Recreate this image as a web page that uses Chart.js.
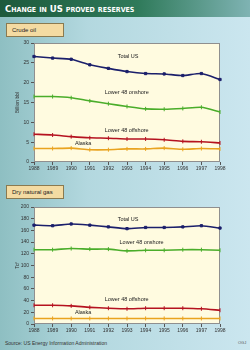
<!DOCTYPE html>
<html lang="en">
<head>
<meta charset="UTF-8">
<title>Change in US proved reserves</title>
<script src="https://cdn.jsdelivr.net/npm/chart.js"></script>
<style>
  body { margin: 0; }
  .page {
    position: relative; width: 250px; height: 350px; overflow: hidden;
    background: linear-gradient(90deg, #8ebfc2 0%, #b3d8df 35%, #cbe6ef 100%);
    font-family: "Liberation Sans", Arial, sans-serif;
  }
  .titlebar {
    position: absolute; left: 0; top: 0; width: 250px; height: 17px;
    background: linear-gradient(90deg, #1d5a3c 0%, #2f7a5a 55%, #7fb3b3 100%);
    color: white; font-weight: bold; font-size: 9.5px; line-height: 17px;
    padding-left: 5px; box-sizing: border-box; font-variant: small-caps;
    font-family: "Liberation Sans Narrow", "DejaVu Sans Condensed", Arial, sans-serif;
  }
  .tag {
    position: absolute; left: 6px; width: 58px; height: 14px;
    background: #f4dba2; border: 1px solid #8a7a50; box-sizing: border-box;
    font-size: 6px; line-height: 12px; padding-left: 5px; color: #222;
  }
  .box { position: absolute; }
  .source { position: absolute; left: 5px; top: 340px; font-size: 5px; color: #333; }
  .ogj { position: absolute; left: 238px; top: 340px; font-size: 4px; color: #555; }
</style>
</head>
<body>
<div class="page">
  <div class="titlebar">Change in US proved reserves</div>
  <div class="tag" style="top:23px">Crude oil</div>
  <div class="box" style="left:0;top:38px;width:230px;height:135px"><canvas id="oilChart"></canvas></div>
  <div class="tag" style="top:185px">Dry natural gas</div>
  <div class="box" style="left:0;top:202px;width:230px;height:133px"><canvas id="gasChart"></canvas></div>
  <div class="source">Source: US Energy Information Administration</div>
  <div class="ogj">OGJ</div>
</div>

<script>
const years = ['1988', '1989', '1990', '1991', '1992', '1993', '1994', '1995', '1996', '1997', '1998'];
const seriesNames = ['Total US', 'Lower 48 onshore', 'Lower 48 offshore', 'Alaska'];
const seriesColors = ['#1b1f6b', '#4aad2a', '#b5121f', '#e9a31f'];

// crude oil, billion bbl
const oilTotal    = [26.6, 26.2, 25.9, 24.5, 23.6, 22.8, 22.3, 22.2, 21.8, 22.3, 20.8];
const oilOnshore  = [16.5, 16.5, 16.2, 15.4, 14.7, 14.0, 13.4, 13.3, 13.5, 13.8, 12.6];
const oilOffshore = [7.0, 6.8, 6.4, 6.1, 6.0, 5.8, 5.8, 5.6, 5.2, 5.1, 4.8];
const oilAlaska   = [3.4, 3.4, 3.5, 3.1, 3.1, 3.3, 3.3, 3.5, 3.2, 3.4, 3.3];
const oilTicks = [0, 5, 10, 15, 20, 25, 30];

// dry natural gas, tcf
const gasTotal    = [169, 168, 171, 169, 166, 163, 165, 165, 166, 168, 164];
const gasOnshore  = [127, 127, 129, 128, 128, 125, 126, 126, 127, 127, 126];
const gasOffshore = [32, 32, 31, 28.5, 27, 26, 27, 27, 27, 26, 23.5];
const gasAlaska   = [9.5, 9.5, 9.5, 9.5, 9.5, 9.5, 9.5, 9.5, 9.5, 9.5, 9.5];
const gasTicks = [0, 20, 40, 60, 80, 100, 120, 140, 160, 180, 200];

const font = { family: '"Liberation Sans", Arial, sans-serif', size: 5 };

// inline series labels: [series index, x index, value above line]
const oilLabels = [[0, 4.5, 26.2], [1, 3.8, 17.2], [2, 3.8, 7.6], [3, 2.2, 4.3]];
const gasLabels = [[0, 4.5, 176], [1, 4.6, 137], [2, 3.8, 40], [3, 2.2, 17]];

const bgPlugin = {
  id: 'plotBg',
  beforeDraw(chart) {
    const a = chart.chartArea, c = chart.ctx;
    c.save();
    c.fillStyle = '#fffbe0';
    c.fillRect(a.left, a.top, a.right - a.left, a.bottom - a.top);
    c.strokeStyle = '#8f8f8f';
    c.lineWidth = 1;
    c.strokeRect(a.left + 0.5, a.top + 0.5, a.right - a.left - 1, a.bottom - a.top - 1);
    c.restore();
  }
};

function labelPlugin(list) {
  return {
    id: 'lineLabels',
    afterDatasetsDraw(chart) {
      const c = chart.ctx, x = chart.scales.x, y = chart.scales.y;
      c.save();
      c.font = '5.5px "Liberation Sans", Arial, sans-serif';
      c.fillStyle = '#222';
      c.textAlign = 'left';
      list.forEach(([s, xi, v]) => {
        const px = x.left + (x.right - x.left) * xi / (years.length - 1);
        c.fillText(seriesNames[s], px, y.getPixelForValue(v));
      });
      c.restore();
    }
  };
}

function makeChart(id, data, max, step, ticks, title, labels) {
  new Chart(document.getElementById(id), {
    type: 'line',
    data: {
      labels: years,
      datasets: data.map((d, i) => ({
        label: seriesNames[i],
        data: d,
        borderColor: seriesColors[i],
        backgroundColor: seriesColors[i],
        borderWidth: 1.6,
        pointStyle: i === 0 ? 'rect' : 'line',
        rotation: i === 0 ? 0 : 90,
        pointRadius: i === 0 ? 1.6 : 2,
        pointBorderWidth: 1,
        tension: 0.2
      }))
    },
    options: {
      responsive: true,
      maintainAspectRatio: false,
      animation: false,
      events: [],
      layout: { padding: { top: 5, right: 10, bottom: 0, left: 0 } },
      plugins: { legend: { display: false }, tooltip: { enabled: false } },
      scales: {
        x: {
          offset: false,
          afterFit(s) { s.height = 11; },
          grid: { drawOnChartArea: false, drawTicks: true, tickLength: 3, color: '#555' },
          border: { display: false },
          ticks: { font, color: '#333', maxRotation: 0, autoSkip: false, padding: 1 }
        },
        y: {
          min: 0, max: max,
          afterFit(s) { s.width = 34; },
          afterBuildTicks(s) { s.ticks = ticks.map(v => ({ value: v })); },
          title: { display: true, text: title, font, color: '#333', padding: { top: 15, bottom: 0 } },
          grid: { drawOnChartArea: false, drawTicks: true, tickLength: 3, color: '#555' },
          border: { display: false },
          ticks: { font, color: '#333', stepSize: step, padding: 2 }
        }
      }
    },
    plugins: [bgPlugin, labelPlugin(labels)]
  });
}

makeChart('oilChart', [oilTotal, oilOnshore, oilOffshore, oilAlaska], 30, 5, oilTicks, 'Billion bbl', oilLabels);
makeChart('gasChart', [gasTotal, gasOnshore, gasOffshore, gasAlaska], 200, 20, gasTicks, 'Tcf', gasLabels);
</script>
</body>
</html>
